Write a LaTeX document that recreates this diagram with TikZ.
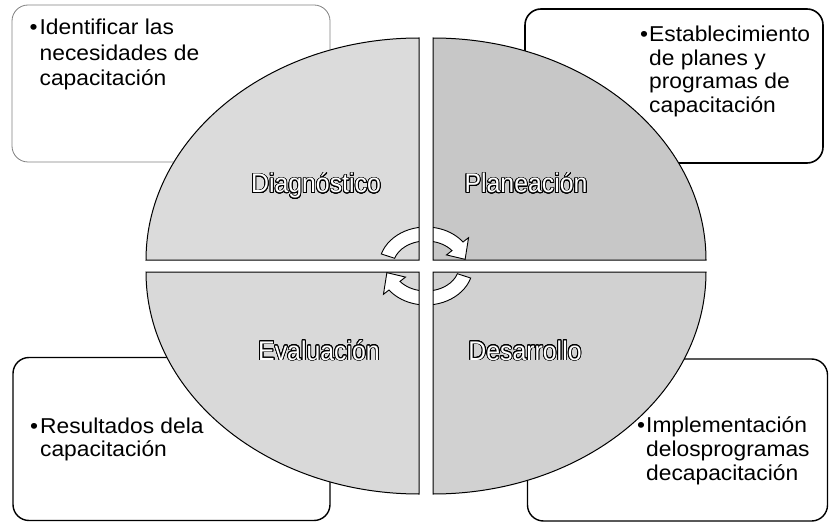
\documentclass[tikz,border=0pt]{standalone}
\usepackage{fontspec}
\setmainfont{Liberation Sans}[FakeStretch=1.06]
\newfontfamily\labfont{Liberation Sans}[FakeStretch=0.92]
\usepackage{contour}
\contourlength{0.8pt}
\contournumber{24}
\begin{document}
\begin{tikzpicture}[x=1pt,y=1pt,
  cbox/.style={fill=white, rounded corners=16pt, inner sep=0pt},
  quadline/.style={draw=black, line width=1pt},
  lab/.style={font=\labfont\fontsize{27}{30}\selectfont, inner sep=0pt, anchor=base},
  btext/.style={inner sep=0pt, anchor=base west, align=left},
  cyc/.style={fill=white, draw=black, line width=0.9pt},
  gapfill/.style={fill=white, draw=none}]
\useasboundingbox (0,0) rectangle (830,523);

% corner boxes
\node[cbox, draw=black!50, line width=0.8pt, minimum width=318pt, minimum height=157pt] (boxTL) at (171,439.5) {};
\node[cbox, draw=black, line width=1.6pt, minimum width=298pt, minimum height=154pt] (boxTR) at (674,437) {};
\node[cbox, draw=black, line width=1.4pt, minimum width=317pt, minimum height=163pt] (boxBL) at (171.5,84) {};
\node[cbox, draw=black, line width=1.4pt, minimum width=300pt, minimum height=162pt] (boxBR) at (677.5,83) {};

% box texts
\node[btext] (tTL) at (29.5,488) {\fontsize{21.5}{25.5}\selectfont
  \begin{tabular}[t]{@{}l@{\hspace{2pt}}l@{}}•&Identificar las\\ &necesidades de\\ &capacitación\end{tabular}};
\node[btext] (tTR) at (640,481) {\fontsize{21.5}{23.5}\selectfont
  \begin{tabular}[t]{@{}l@{\hspace{1pt}}l@{}}•&Establecimiento\\ &de planes y\\ &programas de\\ &capacitación\end{tabular}};
\node[btext] (tBL) at (30,90) {\fontsize{21.5}{23}\selectfont
  \begin{tabular}[t]{@{}l@{\hspace{2pt}}l@{}}•&Resultados dela\\ &capacitación\end{tabular}};
\node[btext] (tBR) at (637,91) {\fontsize{21.5}{24}\selectfont
  \begin{tabular}[t]{@{}l@{\hspace{1pt}}l@{}}•&Implementación\\ &delosprogramas\\ &decapacitación\end{tabular}};

% quadrants (fill)
\fill[black!14] (419,263) -- (146,263) arc[start angle=180,end angle=90,x radius=273,y radius=222] -- cycle;
\fill[black!22] (433,263) -- (433,485) arc[start angle=90,end angle=0,x radius=273,y radius=222] -- cycle;
\fill[black!18] (433,251) -- (706,251) arc[start angle=0,end angle=-90,x radius=273,y radius=222] -- cycle;
\fill[black!15] (419,251) -- (419,29) arc[start angle=270,end angle=180,x radius=273,y radius=222] -- cycle;

% quadrant labels
\node[lab] (dia) at (316,330) {\textcolor{white}{\contour{black}{Diagnóstico}}};
\node[lab] (pla) at (526,330) {\textcolor{white}{\contour{black}{Planeación}}};
\node[lab] (eva) at (319,163) {\textcolor{white}{\contour{black}{Evaluación}}};
\node[lab] (des) at (525,163) {\textcolor{white}{\contour{black}{Desarrollo}}};

% circular arrows
\coordinate (cc) at (426,257);
\path[cyc] ([shift={(cc)}]162:47 and 39) arc[start angle=162,end angle=38,x radius=47,y radius=39]
  -- ([shift={(cc)}]38:54 and 46) -- ([shift={(cc)}]12:40 and 32) -- ([shift={(cc)}]38:26 and 18)
  -- ([shift={(cc)}]38:33 and 25) arc[start angle=38,end angle=162,x radius=33,y radius=25] -- cycle;
\path[cyc] ([shift={(cc)}]-18:47 and 39) arc[start angle=-18,end angle=-142,x radius=47,y radius=39]
  -- ([shift={(cc)}]-142:54 and 46) -- ([shift={(cc)}]-168:40 and 32) -- ([shift={(cc)}]-142:26 and 18)
  -- ([shift={(cc)}]-142:33 and 25) arc[start angle=-142,end angle=-18,x radius=33,y radius=25] -- cycle;

% white cross gap
\path[gapfill] (419,15) rectangle (433,500);
\path[gapfill] (135,251) rectangle (718,263);

% quadrant outlines
\path[quadline] (419,263) -- (146,263) arc[start angle=180,end angle=90,x radius=273,y radius=222] -- cycle;
\path[quadline] (433,263) -- (433,485) arc[start angle=90,end angle=0,x radius=273,y radius=222] -- cycle;
\path[quadline] (433,251) -- (706,251) arc[start angle=0,end angle=-90,x radius=273,y radius=222] -- cycle;
\path[quadline] (419,251) -- (419,29) arc[start angle=270,end angle=180,x radius=273,y radius=222] -- cycle;
\end{tikzpicture}
\end{document}
